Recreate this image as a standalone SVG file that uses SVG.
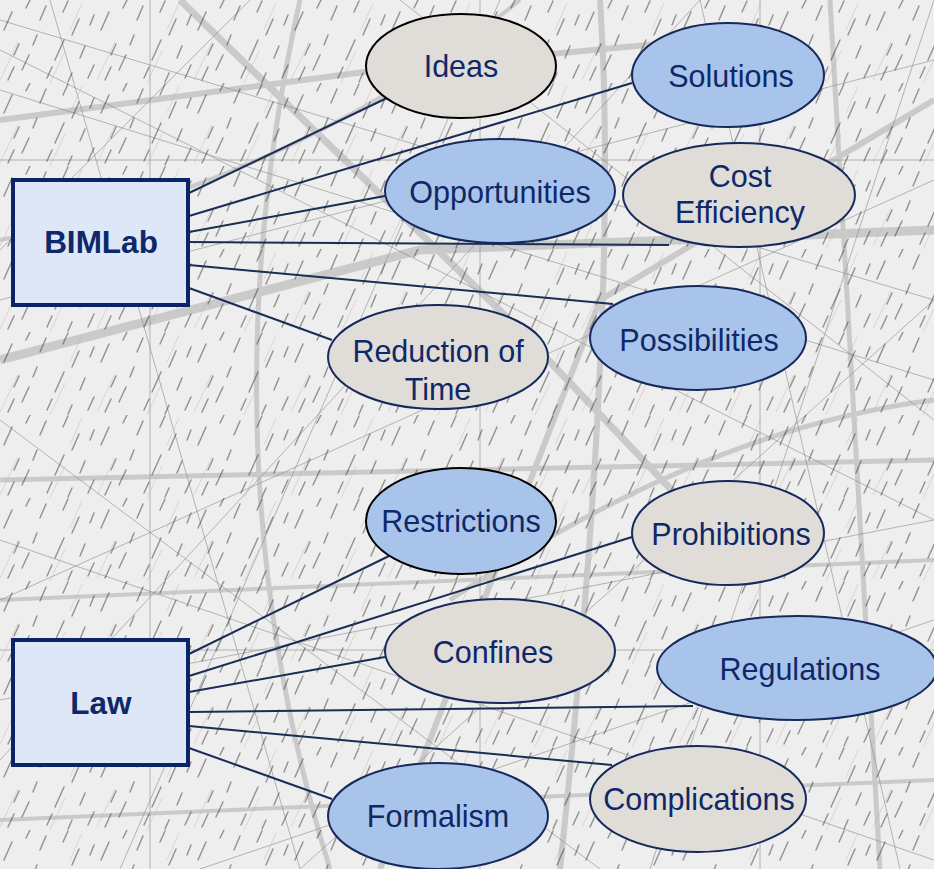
<svg xmlns="http://www.w3.org/2000/svg" width="934" height="869" viewBox="0 0 934 869">
<defs>
<pattern id="dash" patternUnits="userSpaceOnUse" width="97" height="83">
<g stroke="#3a3a3a" stroke-width="1.5" stroke-linecap="round" opacity="0.5">
<path d="M4 30 l8 -18 M22 70 l7 -15 M40 20 l6 -14 M55 60 l9 -20 M72 35 l7 -16 M88 78 l6 -13 M14 55 l5 -11 M63 12 l5 -11 M33 45 l4 -10 M80 58 l5 -12 M8 80 l6 -13 M47 78 l5 -11 M90 25 l4 -10 M26 8 l4 -8 M68 82 l4 -9"/>
</g>
<g stroke="#d8a0a0" stroke-width="0.8" opacity="0.5">
<path d="M0 80 l18 -38 M50 83 l15 -32 M70 30 l12 -27"/>
</g>
</pattern>
<style>
.box{fill:#dde7f7;stroke:#0b2466;stroke-width:4}
.blue{fill:#a9c4ea;stroke:#15295a;stroke-width:2}
.gray{fill:#e0dcd8;stroke:#15295a;stroke-width:2}
.blk{stroke:#000}
.t{font-family:"Liberation Sans",Arial,sans-serif;font-size:30.5px;fill:#0e2868;text-anchor:middle}
.b{font-weight:bold;font-size:31.5px}
.c{stroke:#1b2d55;stroke-width:2;fill:none}
.thick{stroke:#a8a8a8;fill:none;opacity:0.5}
.thin{stroke:#8a8a8a;stroke-width:1;fill:none;opacity:0.6}
</style>
</defs>
<g id="background">
<rect width="934" height="869" fill="#eeeeee"/>
<g class="thick">
<path d="M0 360 L420 250 L934 230" stroke-width="9"/>
<path d="M0 120 L380 70 L700 40" stroke-width="6"/>
<path d="M180 0 L520 330 L700 520" stroke-width="7"/>
<path d="M600 0 Q620 300 560 869" stroke-width="6"/>
<path d="M0 480 L934 460" stroke-width="5"/>
<path d="M0 600 L934 560" stroke-width="4"/>
<path d="M300 0 Q200 450 330 869" stroke-width="5"/>
<path d="M934 100 L600 300 L380 869" stroke-width="6"/>
<path d="M0 820 L934 780" stroke-width="4"/>
<path d="M830 0 L880 869" stroke-width="5"/>
<path d="M0 240 Q300 180 520 0" stroke-width="4"/>
<path d="M934 400 Q700 430 450 600" stroke-width="5"/>
</g>
<g class="thin">
<path d="M0 20 L934 300 M0 300 L934 60 M50 0 L300 869 M120 869 L500 0 M0 700 L934 520 M0 540 L934 860 M700 0 L900 869 M934 620 L200 869 M400 0 L934 420 M0 420 L600 869 M250 0 L0 250 M934 0 L650 869 M0 160 L934 160 M0 650 L934 650 M150 0 L150 869 M480 0 L480 869 M760 0 L760 869 M0 50 L934 520 M934 180 L0 600 M0 90 L934 380 M300 869 L934 300 M0 760 L700 0"/>
</g>
<rect width="934" height="869" fill="url(#dash)"/>
</g>
<g id="connectors" class="c">
<line x1="189" y1="193" x2="389" y2="97"/>
<line x1="189" y1="216" x2="632" y2="83"/>
<line x1="189" y1="232" x2="385" y2="196"/>
<line x1="189" y1="242" x2="669" y2="245"/>
<line x1="189" y1="265" x2="613" y2="304"/>
<line x1="189" y1="288" x2="332" y2="340"/>
<line x1="189" y1="654" x2="389" y2="556"/>
<line x1="189" y1="676" x2="632" y2="537"/>
<line x1="189" y1="692" x2="385" y2="657"/>
<line x1="189" y1="712" x2="693" y2="706"/>
<line x1="189" y1="726" x2="612" y2="765"/>
<line x1="189" y1="748" x2="332" y2="799"/>
</g>
<g id="bimlab"><rect class="box" x="13" y="180" width="175" height="125"/><text class="t b" x="101" y="253">BIMLab</text></g>
<g id="law"><rect class="box" x="13" y="640" width="175" height="125"/><text class="t b" x="101" y="714">Law</text></g>
<g id="ideas"><ellipse class="gray blk" cx="461" cy="66" rx="95" ry="52"/><text class="t" x="461" y="77">Ideas</text></g>
<g id="solutions"><ellipse class="blue" cx="728" cy="75" rx="96" ry="52"/><text class="t" x="731" y="87">Solutions</text></g>
<g id="opportunities"><ellipse class="blue" cx="500" cy="191" rx="115" ry="52"/><text class="t" x="500" y="203">Opportunities</text></g>
<g id="cost-efficiency"><ellipse class="gray" cx="739" cy="195" rx="116" ry="52"/><text class="t" x="740" y="187">Cost</text><text class="t" x="740" y="223">Efficiency</text></g>
<g id="possibilities"><ellipse class="blue" cx="698" cy="338" rx="108" ry="52"/><text class="t" x="699" y="351">Possibilities</text></g>
<g id="reduction-of-time"><ellipse class="gray" cx="438" cy="357" rx="110" ry="52"/><text class="t" x="438" y="362">Reduction of</text><text class="t" x="438" y="400">Time</text></g>
<g id="restrictions"><ellipse class="blue blk" cx="461" cy="521" rx="95" ry="53"/><text class="t" x="461" y="532">Restrictions</text></g>
<g id="prohibitions"><ellipse class="gray" cx="728" cy="533" rx="96" ry="52"/><text class="t" x="731" y="545">Prohibitions</text></g>
<g id="confines"><ellipse class="gray" cx="500" cy="651" rx="115" ry="52"/><text class="t" x="493" y="663">Confines</text></g>
<g id="regulations"><ellipse class="blue" cx="797" cy="668" rx="140" ry="52"/><text class="t" x="800" y="680">Regulations</text></g>
<g id="complications"><ellipse class="gray" cx="698" cy="799" rx="108" ry="53"/><text class="t" x="699" y="810">Complications</text></g>
<g id="formalism"><ellipse class="blue" cx="438" cy="816" rx="110" ry="53"/><text class="t" x="438" y="827">Formalism</text></g>
</svg>
